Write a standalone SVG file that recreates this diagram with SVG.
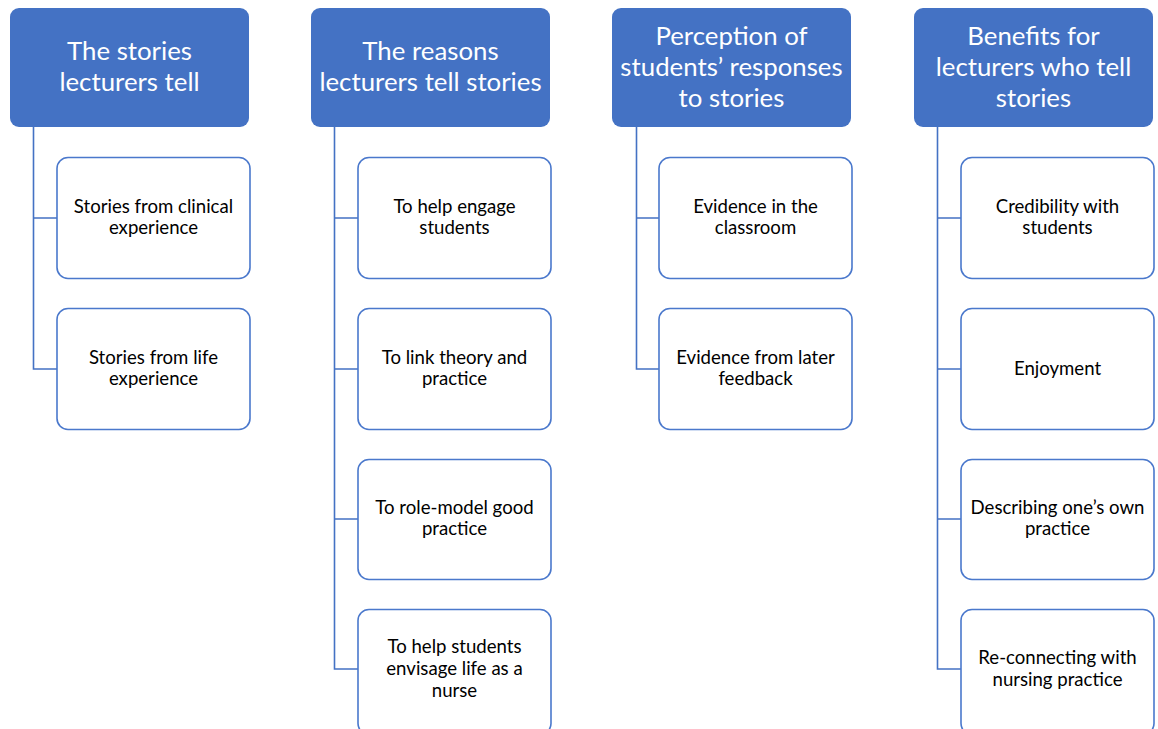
<svg xmlns="http://www.w3.org/2000/svg" width="1158" height="729" viewBox="0 0 1158 729">
<style>
.hdr{fill:#4472C4;}
.ht{fill:#fff;font-family:Lato,"Open Sans","Liberation Sans",sans-serif;font-size:25.8px;text-anchor:middle;}
.box{fill:#fff;stroke:#4a78cc;stroke-width:1.6;}
.bt{fill:#000;font-family:Lato,"Open Sans","Liberation Sans",sans-serif;font-size:18.6px;text-anchor:middle;}
.con{fill:none;stroke:#4472C4;stroke-width:1.6;}
</style>
<rect width="1158" height="729" fill="#fff"/>
<g id="connectors">
<path class="con" d="M33.5 127V369H57M33.5 218H57"/>
<path class="con" d="M334.5 127V669H358M334.5 218H358M334.5 369H358M334.5 519H358"/>
<path class="con" d="M636.5 127V369H659M636.5 218H659"/>
<path class="con" d="M937.5 127V669H961M937.5 218H961M937.5 369H961M937.5 519H961"/>
</g>
<g id="h1"><rect class="hdr" x="10" y="8" width="239" height="119" rx="9"/><text class="ht" x="129.5" y="60">The stories</text><text class="ht" x="129.5" y="91">lecturers tell</text></g>
<g id="h2"><rect class="hdr" x="311" y="8" width="239" height="119" rx="9"/><text class="ht" x="430.5" y="60">The reasons</text><text class="ht" x="430.5" y="91">lecturers tell stories</text></g>
<g id="h3"><rect class="hdr" x="612" y="8" width="239" height="119" rx="9"/><text class="ht" x="731.5" y="45">Perception of</text><text class="ht" x="731.5" y="76">students’ responses</text><text class="ht" x="731.5" y="107">to stories</text></g>
<g id="h4"><rect class="hdr" x="914" y="8" width="239" height="119" rx="9"/><text class="ht" x="1033.5" y="45">Benefits for</text><text class="ht" x="1033.5" y="76">lecturers who tell</text><text class="ht" x="1033.5" y="107">stories</text></g>

<g id="c1a"><rect class="box" x="57" y="157.5" width="193" height="121" rx="11"/><text class="bt" x="153.5" y="213">Stories from clinical</text><text class="bt" x="153.5" y="234">experience</text></g>
<g id="c1b"><rect class="box" x="57" y="308.5" width="193" height="121" rx="11"/><text class="bt" x="153.5" y="364">Stories from life</text><text class="bt" x="153.5" y="385">experience</text></g>

<g id="c2a"><rect class="box" x="358" y="157.5" width="193" height="121" rx="11"/><text class="bt" x="454.5" y="213">To help engage</text><text class="bt" x="454.5" y="234">students</text></g>
<g id="c2b"><rect class="box" x="358" y="308.5" width="193" height="121" rx="11"/><text class="bt" x="454.5" y="364">To link theory and</text><text class="bt" x="454.5" y="385">practice</text></g>
<g id="c2c"><rect class="box" x="358" y="459.5" width="193" height="120" rx="11"/><text class="bt" x="454.5" y="514">To role-model good</text><text class="bt" x="454.5" y="535">practice</text></g>
<g id="c2d"><rect class="box" x="358" y="609.5" width="193" height="125" rx="11"/><text class="bt" x="454.5" y="653">To help students</text><text class="bt" x="454.5" y="675">envisage life as a</text><text class="bt" x="454.5" y="697">nurse</text></g>

<g id="c3a"><rect class="box" x="659" y="157.5" width="193" height="121" rx="11"/><text class="bt" x="755.5" y="213">Evidence in the</text><text class="bt" x="755.5" y="234">classroom</text></g>
<g id="c3b"><rect class="box" x="659" y="308.5" width="193" height="121" rx="11"/><text class="bt" x="755.5" y="364">Evidence from later</text><text class="bt" x="755.5" y="385">feedback</text></g>

<g id="c4a"><rect class="box" x="961" y="157.5" width="193" height="121" rx="11"/><text class="bt" x="1057.5" y="213">Credibility with</text><text class="bt" x="1057.5" y="234">students</text></g>
<g id="c4b"><rect class="box" x="961" y="308.5" width="193" height="121" rx="11"/><text class="bt" x="1057.5" y="375">Enjoyment</text></g>
<g id="c4c"><rect class="box" x="961" y="459.5" width="193" height="120" rx="11"/><text class="bt" x="1057.5" y="514">Describing one’s own</text><text class="bt" x="1057.5" y="535">practice</text></g>
<g id="c4d"><rect class="box" x="961" y="609.5" width="193" height="125" rx="11"/><text class="bt" x="1057.5" y="664">Re-connecting with</text><text class="bt" x="1057.5" y="686">nursing practice</text></g>
</svg>
